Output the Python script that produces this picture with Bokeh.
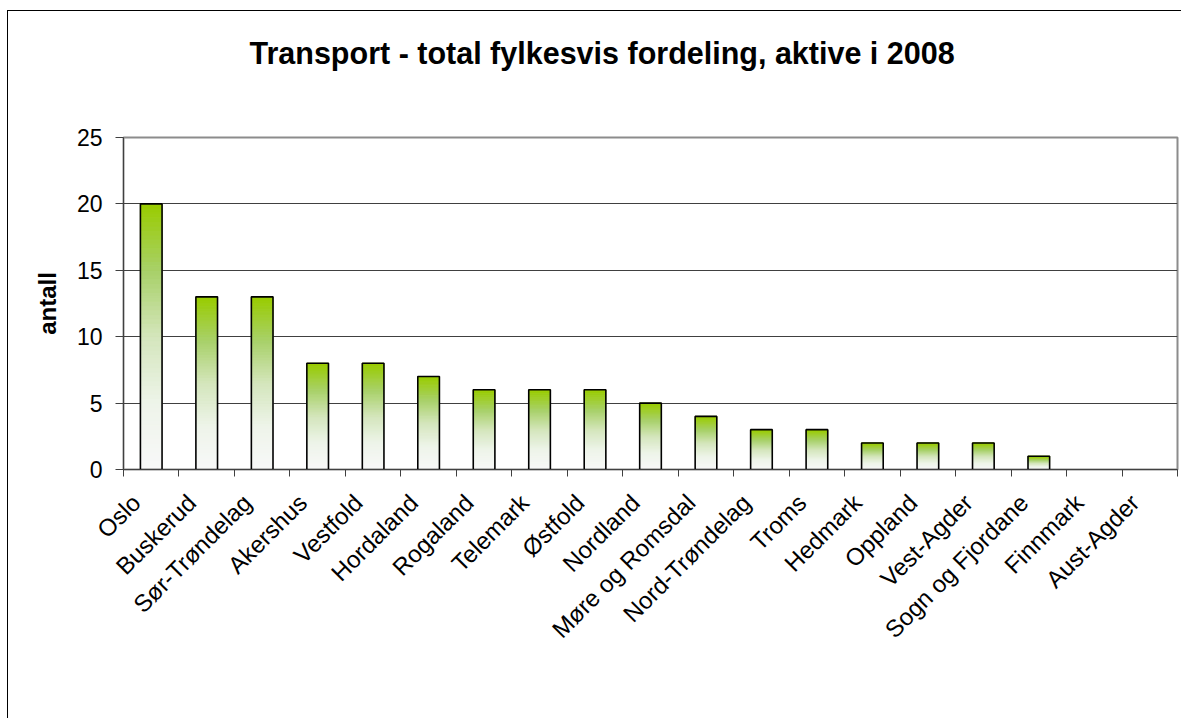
import numpy as np
from bokeh.plotting import figure
from bokeh.models import Range1d, FixedTicker, Title
from bokeh.embed import file_html
from bokeh.resources import INLINE

# ---- data ----
counties = ["Oslo", "Buskerud", "Sør-Trøndelag", "Akershus", "Vestfold", "Hordaland",
            "Rogaland", "Telemark", "Østfold", "Nordland", "Møre og Romsdal",
            "Nord-Trøndelag", "Troms", "Hedmark", "Oppland", "Vest-Agder",
            "Sogn og Fjordane", "Finnmark", "Aust-Agder"]
counts = [20, 13, 13, 8, 8, 7, 6, 6, 6, 5, 4, 3, 3, 2, 2, 2, 1, 0, 0]
y_ticks = [0, 5, 10, 15, 20, 25]
title_text = "Transport - total fylkesvis fordeling, aktive i 2008"
y_label = "antall"

FONT = "Liberation Sans"
n = len(counties)
W, H = 1174, 708

p = figure(width=W, height=H, output_backend="svg", toolbar_location=None,
           x_range=Range1d(0, n), y_range=Range1d(y_ticks[0], y_ticks[-1]),
           min_border_left=115, min_border_right=5, min_border_top=126,
           min_border_bottom=250, background_fill_color="white",
           border_fill_color="white")
p.styles = {"margin-left": "7px", "margin-top": "10px",
            "border-left": "1px solid black", "border-top": "1px solid black"}

# spacer between title and plot area
p.add_layout(Title(text=" ", text_font_size="1px", standoff=60), "above")

# title
p.title.text = title_text
p.title.text_font = FONT
p.title.text_font_size = "30.5px"
p.title.text_font_style = "bold"
p.title.text_color = "black"
p.title.align = "left"
p.title.offset = 126
p.title.standoff = 10

# gradient colour stops (bottom -> top)
stops = [(0.0, (248, 248, 248)), (0.25, (238, 244, 234)), (0.5, (212, 230, 188)),
         (0.75, (168, 208, 104)), (1.0, (153, 204, 0))]

def grad(t):
    for (t0, c0), (t1, c1) in zip(stops[:-1], stops[1:]):
        if t <= t1:
            f = (t - t0) / (t1 - t0)
            c = [int(round(a + (b - a) * f)) for a, b in zip(c0, c1)]
            return "#%02x%02x%02x" % tuple(c)
    return "#%02x%02x%02x" % stops[-1][1]

centers = [i + 0.5 for i in range(n)]
bw = 0.39
NSEG = 60
L, R, B, T, C = [], [], [], [], []
for cx, v in zip(centers, counts):
    if v <= 0:
        continue
    for k in range(NSEG):
        L.append(cx - bw / 2)
        R.append(cx + bw / 2)
        B.append(v * k / NSEG)
        T.append(v * (k + 1) / NSEG)
        C.append(grad((k + 0.5) / NSEG))
p.quad(left=L, right=R, bottom=B, top=T, fill_color=C, line_color=C, line_width=1)

vx = [c for c, v in zip(centers, counts) if v > 0]
vv = [v for v in counts if v > 0]
p.vbar(x=vx, top=vv, width=bw, bottom=0, fill_color=None, line_color="black", line_width=1.6)

# x axis: invisible major ticks carry the (slightly shifted) labels,
# visible minor ticks sit on the category boundaries
label_shift = 0.27
label_pos = [c - label_shift for c in centers]
p.xaxis.ticker = FixedTicker(ticks=label_pos, minor_ticks=list(range(n + 1)))
p.xaxis.major_label_overrides = {float(c): name for c, name in zip(label_pos, counties)}
p.xaxis.major_tick_line_color = None
p.xaxis.major_tick_out = 7
p.xaxis.major_tick_in = 0
p.xaxis.minor_tick_out = 7
p.xaxis.minor_tick_in = 0
p.xaxis.minor_tick_line_color = "#404040"
p.xaxis.axis_line_color = "#404040"
p.xaxis.major_label_orientation = np.pi / 4
p.xaxis.major_label_text_font = FONT
p.xaxis.major_label_text_font_size = "24px"
p.xaxis.major_label_text_color = "black"
p.xaxis.major_label_standoff = 22

# y axis
p.yaxis.ticker = FixedTicker(ticks=y_ticks)
p.yaxis.minor_tick_line_color = None
p.yaxis.major_tick_out = 8
p.yaxis.major_tick_in = 0
p.yaxis.major_tick_line_color = "#404040"
p.yaxis.axis_line_color = "#404040"
p.yaxis.major_label_text_font = FONT
p.yaxis.major_label_text_font_size = "23px"
p.yaxis.major_label_text_color = "black"
p.yaxis.major_label_standoff = 13
p.yaxis.axis_label = y_label
p.yaxis.axis_label_text_font = FONT
p.yaxis.axis_label_text_font_size = "24px"
p.yaxis.axis_label_text_font_style = "bold"
p.yaxis.axis_label_text_color = "black"
p.yaxis.axis_label_standoff = 13

p.xgrid.grid_line_color = None
p.ygrid.ticker = FixedTicker(ticks=y_ticks)
p.ygrid.grid_line_color = "#404040"
p.ygrid.grid_line_width = 1

p.outline_line_color = "#8c8c8c"
p.outline_line_width = 2

open("out.html", "w").write(file_html(p, INLINE))
